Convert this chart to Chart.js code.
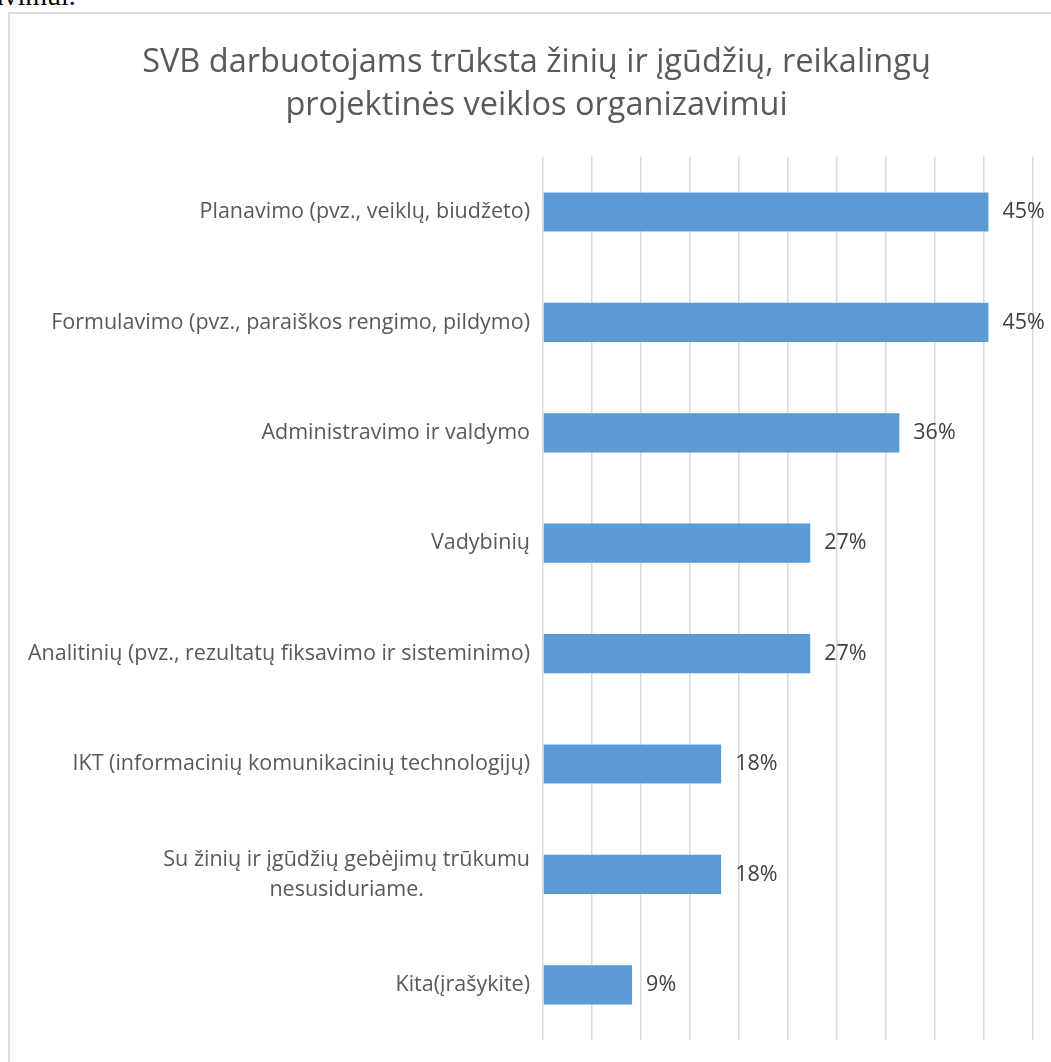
<!DOCTYPE html>
<html>
<head>
<meta charset="utf-8">
<script src="https://cdn.jsdelivr.net/npm/chart.js@4"></script>
<style>
  html, body { margin: 0; padding: 0; background: #fff; overflow: hidden; }
  #wrap { position: relative; width: 1051px; height: 1062px; }
  #doc { position: absolute; left: -9px; top: -18px; font: 28px "Liberation Serif", serif; color: #000; line-height: 1; }
  #frame { position: absolute; left: 8px; top: 12px; width: 1100px; height: 1100px; border: 2px solid #dcdcdc; box-sizing: border-box; }
  #chart { position: absolute; left: 0; top: 0; }
</style>
</head>
<body>
<div id="wrap">
  <div id="doc">avimui.</div>
  <div id="frame"></div>
  <canvas id="chart" width="1051" height="1062"></canvas>
</div>
<script>
var categories = [
  "Planavimo (pvz., veiklų, biudžeto)",
  "Formulavimo (pvz., paraiškos rengimo, pildymo)",
  "Administravimo ir valdymo",
  "Vadybinių",
  "Analitinių (pvz., rezultatų fiksavimo ir sisteminimo)",
  "IKT (informacinių komunikacinių technologijų)",
  ["Su žinių ir įgūdžių gebėjimų trūkumu", "nesusiduriame."],
  "Kita(įrašykite)"
];
var values = [45.45, 45.45, 36.36, 27.27, 27.27, 18.18, 18.18, 9.09];
var titleLines = ["SVB darbuotojams trūksta žinių ir įgūdžių, reikalingų", "projektinės veiklos organizavimui"];

var FONT = '"Open Sans", sans-serif';

// category labels: right aligned block, lines centered inside it
var catLabels = {
	id: 'catLabels',
	afterDraw: function(chart) {
		var ctx = chart.ctx;
		var y = chart.scales.y;
		var right = chart.chartArea.left - 13;
		ctx.save();
		ctx.font = '21.5px ' + FONT;
		ctx.fillStyle = '#595959';
		ctx.textAlign = 'center';
		ctx.textBaseline = 'middle';
		categories.forEach(function(lab, i) {
			var lines = Array.isArray(lab) ? lab : [lab];
			var w = 0;
			lines.forEach(function(l) { w = Math.max(w, ctx.measureText(l).width); });
			var cx = right - w / 2;
			var lh = 30;
			var cy = y.getPixelForTick(i) - (lines.length - 1) * lh / 2;
			lines.forEach(function(l, j) { ctx.fillText(l, cx, cy + j * lh); });
		});
		ctx.restore();
	}
};

// value labels at the end of each bar
var valueLabels = {
	id: 'valueLabels',
	afterDatasetsDraw: function(chart) {
		var ctx = chart.ctx;
		var meta = chart.getDatasetMeta(0);
		ctx.save();
		ctx.font = '21.5px ' + FONT;
		ctx.fillStyle = '#404040';
		ctx.textAlign = 'left';
		ctx.textBaseline = 'middle';
		meta.data.forEach(function(bar, i) {
			ctx.fillText(Math.round(values[i]) + '%', bar.x + 14, bar.y);
		});
		ctx.restore();
	}
};

var ctx = document.getElementById('chart').getContext('2d');
var myChart = new Chart(ctx, {
	type: 'bar',
	data: {
		labels: categories,
		datasets: [{
			data: values,
			backgroundColor: '#5b9bd5',
			barPercentage: 0.355,
			categoryPercentage: 1
		}]
	},
	options: {
		indexAxis: 'y',
		responsive: false,
		animation: false,
		layout: { padding: { left: 40, right: 18, top: 0, bottom: 22 } },
		plugins: {
			legend: { display: false },
			tooltip: { enabled: false },
			title: {
				display: true,
				text: titleLines,
				color: '#595959',
				font: { family: FONT, size: 32.5, weight: 'normal', lineHeight: 1.32 },
				padding: { top: 41, bottom: 30 }
			}
		},
		scales: {
			x: {
				min: 0,
				max: 50,
				ticks: { display: false, stepSize: 5 },
				grid: { color: '#d9d9d9', lineWidth: 1.5, drawTicks: false },
				border: { display: false }
			},
			y: {
				ticks: { display: false },
				grid: { display: false, drawTicks: false },
				border: { display: false },
				afterFit: function(scale) { scale.width = 503; }
			}
		}
	},
	plugins: [catLabels, valueLabels]
});
</script>
</body>
</html>
